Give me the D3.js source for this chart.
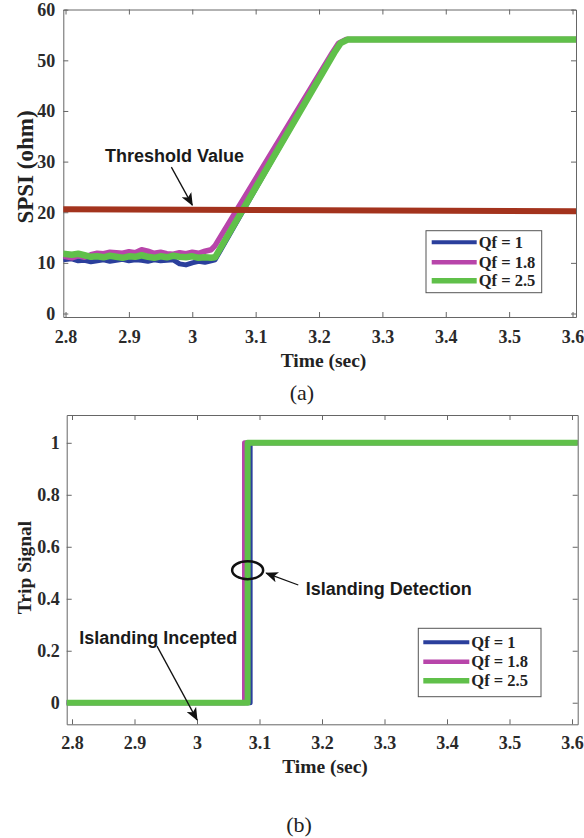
<!DOCTYPE html>
<html>
<head>
<meta charset="utf-8">
<script src="https://cdn.jsdelivr.net/npm/d3@7/dist/d3.min.js"></script>
<style>
  html, body { margin: 0; padding: 0; background: #fff; }
  svg { display: block; }
  .tick text { font-family: "Liberation Serif", "Times New Roman", serif; font-weight: bold; font-size: 18px; fill: #2a2a2a; }
  .tick line { stroke: #666; }
  .domain { stroke: #666; }
</style>
</head>
<body>
<svg id="chart" width="584" height="838"></svg>
<script>
// ---- SPSI traces (ohm) ----
const qf1Time  = [2.796, 2.81, 2.82, 2.83, 2.84, 2.85, 2.86, 2.87, 2.88, 2.89, 2.90, 2.91, 2.92, 2.93, 2.94, 2.95, 2.96, 2.97, 2.98, 2.99, 3.00, 3.01, 3.02, 3.03, 3.036, 3.223, 3.233, 3.244, 3.61];
const qf1Spsi  = [10.6, 10.8, 10.4, 10.5, 10.2, 10.4, 10.6, 10.3, 10.5, 10.7, 10.4, 10.6, 10.5, 10.3, 10.6, 10.4, 10.5, 10.6, 9.8, 9.6, 10.0, 10.3, 10.1, 10.4, 10.6, 51.5, 53.4, 54.1, 54.1];

const qf18Time = [2.796, 2.81, 2.82, 2.83, 2.84, 2.85, 2.86, 2.87, 2.88, 2.89, 2.90, 2.91, 2.92, 2.93, 2.94, 2.95, 2.96, 2.97, 2.98, 2.99, 3.00, 3.01, 3.02, 3.03, 3.036, 3.221, 3.231, 3.242, 3.61];
const qf18Spsi = [11.3, 11.0, 11.4, 11.1, 11.6, 11.9, 11.8, 12.1, 12.0, 11.9, 12.2, 12.0, 12.6, 12.3, 11.9, 12.1, 11.8, 11.7, 12.0, 11.8, 12.1, 11.9, 12.3, 12.6, 13.4, 51.5, 53.4, 54.1, 54.1];

const qf25Time = [2.796, 2.81, 2.82, 2.83, 2.84, 2.85, 2.86, 2.87, 2.88, 2.89, 2.90, 2.91, 2.92, 2.93, 2.94, 2.95, 2.96, 2.97, 2.98, 2.99, 3.00, 3.01, 3.02, 3.03, 3.036, 3.224, 3.234, 3.245, 3.61];
const qf25Spsi = [11.8, 11.6, 11.8, 11.5, 11.2, 11.3, 11.1, 11.4, 11.2, 11.0, 11.3, 11.2, 11.5, 11.2, 11.0, 11.3, 11.1, 11.4, 11.2, 11.1, 11.3, 11.0, 11.1, 11.0, 11.1, 51.5, 53.4, 54.1, 54.1];

const thresholdTime = [2.796, 3.61];
const thresholdSpsi = [20.6, 20.2];

// ---- Trip signal steps ----
const qf1TripTime  = [2.79, 3.085, 3.085, 3.61];
const qf18TripTime = [2.79, 3.076, 3.076, 3.61];
const qf25TripTime = [2.79, 3.081, 3.081, 3.61];
const tripValue    = [0, 0, 1, 1];

// ---- Legend / ticks ----
const seriesNames  = ["Qf = 1", "Qf = 1.8", "Qf = 2.5"];
const seriesColors = ["#2b3f9c", "#b845aa", "#60c04a"];
const seriesWidths = [5, 5.5, 6.5];
const legendWidths = [4, 4.5, 5.5];
const timeTicks  = [2.8, 2.9, 3.0, 3.1, 3.2, 3.3, 3.4, 3.5, 3.6];
const spsiTicks  = [0, 10, 20, 30, 40, 50, 60];
const tripTicks  = [0, 0.2, 0.4, 0.6, 0.8, 1];

const svg = d3.select("#chart");
const serif = '"Liberation Serif", "Times New Roman", serif';
const sans = '"Liberation Sans", Arial, Helvetica, sans-serif';

// arrowhead marker
const defs = svg.append("defs");
defs.append("marker")
  .attr("id", "arrow")
  .attr("viewBox", "0 0 12 10")
  .attr("refX", 11).attr("refY", 5)
  .attr("markerUnits", "userSpaceOnUse")
  .attr("markerWidth", 13).attr("markerHeight", 11)
  .attr("orient", "auto")
  .append("path")
  .attr("d", "M0,0 L12,5 L0,10 L3,5 Z")
  .attr("fill", "#111");

function makePanel(opts) {
  const x = d3.scaleLinear().domain(opts.xDomain).range([opts.left, opts.right]);
  const y = d3.scaleLinear().domain(opts.yDomain).range([opts.bottom, opts.top]);
  const g = svg.append("g");
  const clipId = "clip-" + opts.id;
  defs.append("clipPath").attr("id", clipId)
    .append("rect")
    .attr("x", opts.left).attr("y", opts.top)
    .attr("width", opts.right - opts.left).attr("height", opts.bottom - opts.top);

  // axes with inward ticks on all four sides
  g.append("g").attr("transform", `translate(0,${opts.bottom})`)
    .call(d3.axisBottom(x).tickValues(timeTicks).tickFormat(d3.format("~g"))
      .tickSizeInner(-5).tickSizeOuter(0).tickPadding(opts.xPad));
  g.append("g").attr("transform", `translate(0,${opts.top})`)
    .call(d3.axisTop(x).tickValues(timeTicks).tickFormat("")
      .tickSizeInner(-5).tickSizeOuter(0));
  g.append("g").attr("transform", `translate(${opts.left},0)`)
    .call(d3.axisLeft(y).tickValues(opts.yTicks).tickFormat(d3.format("~g"))
      .tickSizeInner(-5).tickSizeOuter(0).tickPadding(opts.yPad));
  g.append("g").attr("transform", `translate(${opts.right},0)`)
    .call(d3.axisRight(y).tickValues(opts.yTicks).tickFormat("")
      .tickSizeInner(-5).tickSizeOuter(0));

  const plot = g.append("g").attr("clip-path", `url(#${clipId})`);
  return { x, y, g, plot };
}

function drawLine(plot, x, y, times, values, color, width) {
  const pts = times.map((t, i) => [t, values[i]]);
  plot.append("path")
    .attr("d", d3.line().x(d => x(d[0])).y(d => y(d[1]))(pts))
    .attr("fill", "none")
    .attr("stroke", color)
    .attr("stroke-width", width)
    .attr("stroke-linejoin", "round");
}

function drawLegend(g, bx, by, bw, bh, rows, lineX0, lineX1) {
  g.append("rect").attr("x", bx).attr("y", by).attr("width", bw).attr("height", bh)
    .attr("fill", "#fff").attr("stroke", "#555").attr("stroke-width", 1);
  seriesNames.forEach((name, i) => {
    g.append("line").attr("x1", lineX0).attr("x2", lineX1)
      .attr("y1", rows[i]).attr("y2", rows[i])
      .attr("stroke", seriesColors[i]).attr("stroke-width", legendWidths[i]);
    g.append("text").attr("x", lineX1 + 2).attr("y", rows[i]).attr("dy", "0.35em")
      .attr("font-family", serif).attr("font-weight", "bold").attr("font-size", 16.5)
      .attr("fill", "#222").text(name);
  });
}

function annotate(g, text, tx, ty, anchor, from, to) {
  g.append("line")
    .attr("x1", from[0]).attr("y1", from[1]).attr("x2", to[0]).attr("y2", to[1])
    .attr("stroke", "#111").attr("stroke-width", 1.3)
    .attr("marker-end", "url(#arrow)");
  g.append("text").attr("x", tx).attr("y", ty).attr("text-anchor", anchor)
    .attr("font-family", sans).attr("font-weight", "bold").attr("font-size", 18)
    .attr("fill", "#1a1a1a").text(text);
}

// ================= Panel (a): SPSI =================
const A = makePanel({
  id: "a", left: 63.3, right: 576, top: 9.5, bottom: 317,
  xDomain: [2.7965, 3.6055], yDomain: [-0.69, 60.04],
  yTicks: spsiTicks, xPad: 13, yPad: 8
});
drawLine(A.plot, A.x, A.y, qf1Time, qf1Spsi, seriesColors[0], seriesWidths[0]);
drawLine(A.plot, A.x, A.y, qf18Time, qf18Spsi, seriesColors[1], seriesWidths[1]);
drawLine(A.plot, A.x, A.y, qf25Time, qf25Spsi, seriesColors[2], seriesWidths[2]);
drawLine(A.plot, A.x, A.y, thresholdTime, thresholdSpsi, "#a3331d", 6);

annotate(A.g, "Threshold Value", A.x(2.972), A.y(31.2) + 6.5, "middle",
  [A.x(2.967), A.y(28.9)], [A.x(3.0), A.y(21.4)]);

drawLegend(A.g, 426, 230.7, 115.7, 62, [242.3, 262.3, 280.7], 431.7, 476.7);

A.g.append("text").attr("transform", "translate(33,167) rotate(-90)")
  .attr("text-anchor", "middle")
  .attr("font-family", serif).attr("font-weight", "bold").attr("font-size", 23)
  .attr("fill", "#222").text("SPSI (ohm)");
A.g.append("text").attr("x", 323.5).attr("y", 366.5).attr("text-anchor", "middle")
  .attr("font-family", serif).attr("font-weight", "bold").attr("font-size", 19.5)
  .attr("fill", "#222").text("Time (sec)");
A.g.append("text").attr("x", 302).attr("y", 400).attr("text-anchor", "middle")
  .attr("font-family", serif).attr("font-size", 22)
  .attr("fill", "#222").text("(a)");

// ================= Panel (b): Trip signal =================
const B = makePanel({
  id: "b", left: 66.7, right: 577.7, top: 415, bottom: 724.3,
  xDomain: [2.7915, 3.6091], yDomain: [-0.083, 1.107],
  yTicks: tripTicks, xPad: 12, yPad: 7
});
drawLine(B.plot, B.x, B.y, qf1TripTime, tripValue, seriesColors[0], 5);
drawLine(B.plot, B.x, B.y, qf18TripTime, tripValue, seriesColors[1], 5);
drawLine(B.plot, B.x, B.y, qf25TripTime, tripValue, seriesColors[2], 6);

B.g.append("ellipse")
  .attr("cx", B.x(3.081)).attr("cy", B.y(0.51))
  .attr("rx", 15.5).attr("ry", 9)
  .attr("fill", "none").attr("stroke", "#111").attr("stroke-width", 2.5);

annotate(B.g, "Islanding Detection", B.x(3.174), B.y(0.441) + 6.5, "start",
  [B.x(3.162), B.y(0.453)], [B.x(3.1107), B.y(0.499)]);
annotate(B.g, "Islanding Incepted", B.x(2.938), B.y(0.25) + 6.5, "middle",
  [B.x(2.936), B.y(0.218)], [B.x(3.0), B.y(-0.066)]);

drawLegend(B.g, 418.3, 628.3, 122.7, 68.4, [642.3, 661.7, 680.7], 423.3, 469.3);

B.g.append("text").attr("transform", "translate(31,567.5) rotate(-90)")
  .attr("text-anchor", "middle")
  .attr("font-family", serif).attr("font-weight", "bold").attr("font-size", 19.5)
  .attr("fill", "#222").text("Trip Signal");
B.g.append("text").attr("x", 325).attr("y", 773).attr("text-anchor", "middle")
  .attr("font-family", serif).attr("font-weight", "bold").attr("font-size", 19.5)
  .attr("fill", "#222").text("Time (sec)");
B.g.append("text").attr("x", 299).attr("y", 832).attr("text-anchor", "middle")
  .attr("font-family", serif).attr("font-size", 22)
  .attr("fill", "#222").text("(b)");
</script>
</body>
</html>
